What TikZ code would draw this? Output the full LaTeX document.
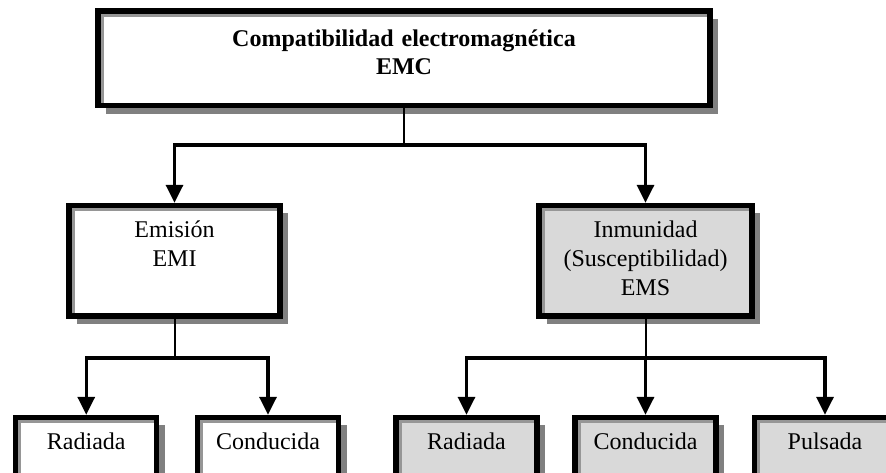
\documentclass[tikz,border=0pt]{standalone}
\usepackage{fontspec}
\setmainfont{Liberation Serif}
\usetikzlibrary{arrows.meta,shadows}
\definecolor{boxgray}{RGB}{217,217,217}
\definecolor{shadowgray}{RGB}{128,128,128}
\definecolor{bevelgray}{RGB}{150,150,150}

\begin{document}
\begin{tikzpicture}[x=0.75pt,y=-0.75pt,
  box/.style={draw, line width=4pt, fill=white, align=center, inner sep=0pt, anchor=base,
    text height=24.4pt, font=\fontsize{18pt}{21.75pt}\selectfont,
    drop shadow={shadow xshift=6pt, shadow yshift=-6pt, fill=shadowgray, opacity=1}},
  greybox/.style={box, fill=boxgray},
  bevel/.style={bevelgray, line width=2.25pt},
  stem/.style={line width=1.5pt},
  branch/.style={line width=2.5pt, -{Triangle[width=12.75pt,length=13.5pt]}}]
  \clip (0,0) rectangle (886,473);

  % boxes
  \node[box, font=\fontsize{18pt}{21pt}\selectfont\bfseries, text height=27pt, text depth=43.9pt, text width=459pt] (emc) at (404,47) {Compatibilidad electromagnética\\EMC};
  \node[box, text depth=58.5pt, text width=158.25pt] (emi) at (174.5,238) {Emisión\\EMI};
  \node[greybox, text depth=58.5pt, text width=159.75pt] (ems) at (645.5,238) {Inmunidad\\(Susceptibilidad)\\EMS};

  \node[box, text depth=30pt, text width=105.75pt] (rad1) at (86.25,450) {Radiada};
  \node[box, text depth=30pt, text width=105.75pt] (con1) at (268,450) {Conducida};
  \node[greybox, text depth=30pt, text width=105.75pt] (rad2) at (466.5,450) {Radiada};
  \node[greybox, text depth=30pt, text width=105.75pt] (con2) at (645.5,450) {Conducida};
  \node[greybox, text depth=30pt, text width=105.75pt] (puls) at (825,450) {Pulsada};

  % inner edge on top and left of each box
  \foreach \n in {emc,emi,ems,rad1,con1,rad2,con2,puls}
    \draw[bevel] ([shift={(5.125pt,4pt)}]\n.south west) |- ([shift={(-4pt,-5.125pt)}]\n.north east);

  % connectors
  \coordinate (j0) at (404,145);
  \coordinate (j1) at (emi.south |- 0,358);
  \coordinate (j2) at (ems.south |- 0,358);

  \draw[stem] (emc) -- (j0);
  \draw[branch] (j0) -| (emi);
  \draw[branch] (j0) -| (ems);

  \draw[stem] (emi) -- (j1);
  \draw[branch] (j1) -| (rad1);
  \draw[branch] (j1) -| (con1);

  \draw[stem] (ems) -- (j2);
  \draw[branch] (j2) -| (rad2);
  \draw[branch] (j2) -| (con2);
  \draw[branch] (j2) -| (puls);
\end{tikzpicture}
\end{document}
